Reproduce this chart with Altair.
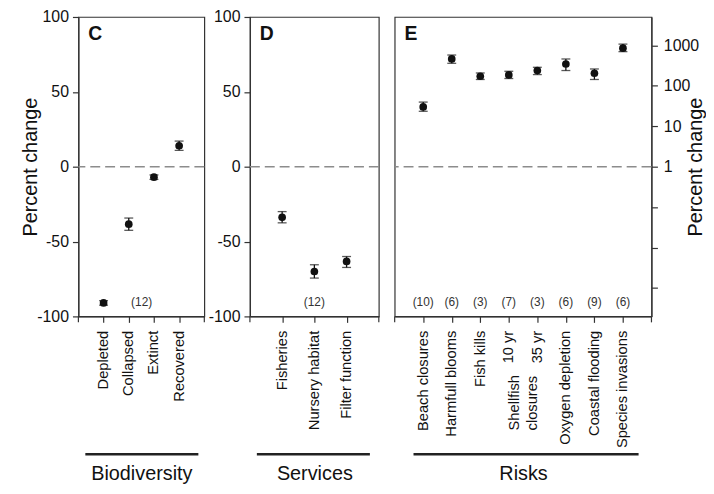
import altair as alt
import pandas as pd

FONT = "Liberation Sans"

# ---------------- data ----------------
# Panel C - Biodiversity (percent change)
bio_cats = ["Depleted", "Collapsed", "Extinct", "Recovered"]
bio_mean = [-91, -38.4, -7, 14]
bio_lo = [-92.5, -42.5, -8.5, 10.9]
bio_hi = [-89.5, -34.3, -5.5, 17.1]

# Panel D - Services (percent change)
svc_cats = ["Fisheries", "Nursery habitat", "Filter function"]
svc_mean = [-33.8, -70, -63.3]
svc_lo = [-37.5, -74.4, -67.3]
svc_hi = [-30, -65.5, -60]

# Panel E - Risks (percent change, log scale)
risk_cats = ["Beach closures", "Harmfull blooms", "Fish kills", "10 yr", "35 yr",
             "Oxygen depletion", "Coastal flooding", "Species invasions"]
risk_mean = [30, 460, 172, 185, 238, 345, 204, 850]
risk_lo = [23.4, 359, 143, 151, 189, 238, 143, 697]
risk_hi = [39.5, 575, 207, 228, 286, 459, 260, 1070]
risk_n = ["(10)", "(6)", "(3)", "(7)", "(3)", "(6)", "(9)", "(6)"]

bio_n_cat, bio_n = "Collapsed", "(12)"
svc_n_cat, svc_n = "Nursery habitat", "(12)"
shellfish_cats = ["10 yr", "35 yr"]
shellfish_text = ["Shellfish", "closures"]
shellfish_dy = [6, -4]

H = 302
INK = "#111111"
FRAME = "#333333"
HYPHEN_LABEL = "datum.value < 0 ? '-' + abs(datum.value) : '' + datum.value"


def panel(cats, mean, lo, hi, width, yscale, yaxis, letter, group,
          line_x, n_cats, n_texts, n_dx, ref_value, extra=None):
    df = pd.DataFrame({"cat": cats, "mean": mean, "lo": lo, "hi": hi})
    xenc = alt.X("cat:N", sort=cats, scale=alt.Scale(type="point", padding=1, domain=cats),
                 axis=alt.Axis(title=group, labelAngle=270, labelFontSize=14.8,
                               labelPadding=8, tickSize=6, titleFontSize=20,
                               titleFontWeight="normal", titleY=158,
                               titleBaseline="middle", labelColor=INK, titleColor=INK))
    base = alt.Chart(df)
    ref = alt.Chart(pd.DataFrame({"v": [ref_value]})).mark_rule(
        color="#8c8c8c", strokeDash=[10, 5], strokeWidth=1.5
    ).encode(y=alt.Y("v:Q", scale=yscale, axis=yaxis))
    bars = base.mark_rule(color=INK, strokeWidth=1.3).encode(
        x=xenc, y=alt.Y("lo:Q", scale=yscale, axis=yaxis), y2="hi:Q")
    cap_lo = base.mark_tick(color=INK, size=9, thickness=1.3).encode(
        x=xenc, y=alt.Y("lo:Q", scale=yscale, axis=yaxis))
    cap_hi = base.mark_tick(color=INK, size=9, thickness=1.3).encode(
        x=xenc, y=alt.Y("hi:Q", scale=yscale, axis=yaxis))
    pts = base.mark_circle(color=INK, size=60, opacity=1).encode(
        x=xenc, y=alt.Y("mean:Q", scale=yscale, axis=yaxis))
    ndf = pd.DataFrame({"cat": n_cats, "t": n_texts})
    ntext = alt.Chart(ndf).mark_text(fontSize=12, font=FONT, color="#333", dx=n_dx,
                                     baseline="middle").encode(
        x=xenc, y=alt.value(H - 14), text="t:N")
    one = pd.DataFrame({"t": [letter]})
    let = alt.Chart(one).mark_text(fontSize=19.5, fontWeight="bold", font=FONT, color=INK,
                                   align="left", baseline="alphabetic").encode(
        x=alt.value(10), y=alt.value(23.5), text="t:N")
    gline = alt.Chart(one).mark_rule(color="#222", strokeWidth=2.5).encode(
        x=alt.value(line_x[0]), x2=alt.value(line_x[1]), y=alt.value(441))
    corner_l = alt.Chart(one).mark_rule(color=FRAME, strokeWidth=1.2).encode(
        x=alt.value(0), y=alt.value(H), y2=alt.value(H + 6))
    corner_r = alt.Chart(one).mark_rule(color=FRAME, strokeWidth=1.2).encode(
        x=alt.value(width), y=alt.value(H), y2=alt.value(H + 6))
    layers = [ref, bars, cap_lo, cap_hi, pts, ntext, let, gline, corner_l, corner_r]
    if extra is not None:
        edf = pd.DataFrame({"cat": extra[0], "t": extra[1], "dy": extra[2]})
        for i in range(len(edf)):
            layers.append(alt.Chart(edf.iloc[[i]]).mark_text(
                angle=270, align="left", baseline="middle", fontSize=14.8, font=FONT,
                color=INK, dy=float(edf["dy"].iloc[i])).encode(
                x=xenc, y=alt.value(417), text="t:N"))
    return alt.layer(*layers).properties(width=width, height=H)


lin = alt.Scale(domain=[-100, 100], nice=False, zero=False)
lin_vals = [-100, -50, 0, 50, 100]
axis_c = alt.Axis(values=lin_vals, labelExpr=HYPHEN_LABEL, title="Percent change",
                  titleFontSize=20, titleFontWeight="normal", titleAngle=270,
                  titleBaseline="middle", titleX=-48, titleY=H / 2, labelFontSize=16,
                  tickSize=6, labelPadding=4, grid=False, labelColor=INK, titleColor=INK)
axis_d = alt.Axis(values=lin_vals, labelExpr=HYPHEN_LABEL, title=None, labelFontSize=16,
                  tickSize=6, labelPadding=4, grid=False, labelColor=INK)
logs = alt.Scale(type="log", domain=[10 ** -3.7, 10 ** 3.7], nice=False)
axis_e = alt.Axis(orient="right", values=[0.001, 0.01, 0.1, 1, 10, 100, 1000],
                  labelExpr="datum.value >= 1 ? format(datum.value, 'd') : ''",
                  title="Percent change", titleAngle=270, titleBaseline="middle",
                  titleX=44, titleY=H / 2,
                  titleFontSize=20, titleFontWeight="normal",
                  labelFontSize=16, tickSize=6, labelPadding=6, grid=False,
                  labelColor=INK, titleColor=INK)

pc = panel(bio_cats, bio_mean, bio_lo, bio_hi, 127, lin, axis_c, "C", "Biodiversity",
           (7, 121), [bio_n_cat], [bio_n], 13, 0)
pd_ = panel(svc_cats, svc_mean, svc_lo, svc_hi, 130, lin, axis_d, "D", "Services",
            (7, 121), [svc_n_cat], [svc_n], 0, 0)
pe = panel(risk_cats, risk_mean, risk_lo, risk_hi, 259, logs, axis_e, "E", "Risks",
           (19, 246), risk_cats, risk_n, 0, 1,
           extra=(shellfish_cats, shellfish_text, shellfish_dy))

left = alt.hconcat(pc, pd_, spacing=46, bounds="flush")
chart = alt.hconcat(left, pe, spacing=12, bounds="full").properties(
    padding={"left": 12, "top": -2, "right": 0, "bottom": 0}
).configure_view(stroke=FRAME, strokeWidth=1.2).configure_axis(
    labelFont=FONT, titleFont=FONT, domainColor=FRAME, tickColor=FRAME,
    domainWidth=1.2, tickWidth=1.2
)

chart.save("out.html", embed_options={"renderer": "svg", "actions": False})
